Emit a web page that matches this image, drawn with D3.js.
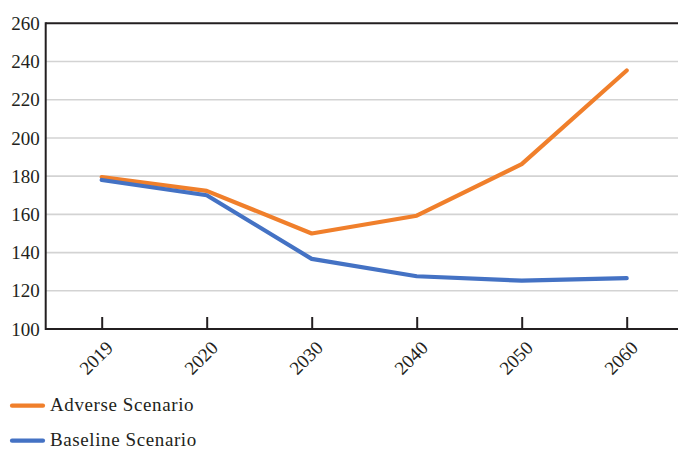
<!DOCTYPE html>
<html>
<head>
<meta charset="utf-8">
<script src="https://cdn.jsdelivr.net/npm/d3@7"></script>
<style>
  html, body { margin: 0; padding: 0; background: #fff; }
  svg { display: block; }
  svg text { font-family: "Liberation Serif", "Times New Roman", "DejaVu Serif", serif !important; fill: #231f20; }
</style>
</head>
<body>
<svg id="chart" width="678" height="449"></svg>
<script>
// Categories (years) and scenario values
const years = ["2019", "2020", "2030", "2040", "2050", "2060"];
const adverse = [179.5, 172.3, 150.0, 159.3, 186.3, 235.3];
const baseline = [178.0, 170.0, 136.7, 127.6, 125.3, 126.6];
const yTicks = [100, 120, 140, 160, 180, 200, 220, 240, 260];
const seriesNames = ["Adverse Scenario", "Baseline Scenario"];
const seriesColors = ["#f07f2b", "#4472c4"];

const svg = d3.select("#chart");
const plotLeft = 45.7, plotRight = 678, plotTop = 23.3, plotBottom = 329;
const fontSize = "19px";

const x = d3.scalePoint().domain(years).range([101.7, 626.7]);
const y = d3.scaleLinear().domain([100, 260]).range([plotBottom, plotTop]);

// Horizontal gridlines
svg.append("g")
  .selectAll("line")
  .data(yTicks.filter(v => v > 100 && v < 260))
  .join("line")
  .attr("x1", plotLeft).attr("x2", plotRight)
  .attr("y1", d => y(d)).attr("y2", d => y(d))
  .attr("stroke", "#d3d3d3").attr("stroke-width", 1.6);

// Y axis
const yAxis = svg.append("g")
  .attr("transform", `translate(${plotLeft},0)`)
  .call(d3.axisLeft(y).tickValues(yTicks).tickSize(0).tickPadding(6));
yAxis.attr("font-family", null).attr("font-size", null);
yAxis.select(".domain").remove();
yAxis.selectAll("text")
  .style("font-size", fontSize)
  .attr("fill", "#231f20");

// Frame: left axis and top line
svg.append("line").attr("x1", plotLeft).attr("x2", plotLeft).attr("y1", plotTop - 1).attr("y2", plotBottom + 1)
  .attr("stroke", "#231f20").attr("stroke-width", 2);
svg.append("line").attr("x1", plotLeft).attr("x2", plotRight).attr("y1", y(260)).attr("y2", y(260))
  .attr("stroke", "#231f20").attr("stroke-width", 2);

// X axis with inward ticks
const xAxis = svg.append("g")
  .attr("transform", `translate(0,${plotBottom})`)
  .call(d3.axisBottom(x).tickSize(0).tickPadding(0));
xAxis.attr("font-family", null).attr("font-size", null);
xAxis.select(".domain").remove();
xAxis.selectAll(".tick line").remove();
xAxis.selectAll(".tick")
  .append("line")
  .attr("y1", 0).attr("y2", -12)
  .attr("stroke", "#231f20").attr("stroke-width", 2);
xAxis.selectAll(".tick text")
  .attr("text-anchor", "end")
  .attr("dy", null)
  .attr("transform", "translate(12,20) rotate(-45)")
  .style("font-size", fontSize)
  .attr("fill", "#231f20");
svg.append("line").attr("x1", plotLeft).attr("x2", plotRight).attr("y1", plotBottom).attr("y2", plotBottom)
  .attr("stroke", "#231f20").attr("stroke-width", 2);

// Series lines
const line = d3.line().x((d, i) => x(years[i])).y(d => y(d));
[adverse, baseline].forEach((vals, k) => {
  svg.append("path")
    .datum(vals)
    .attr("d", line)
    .attr("fill", "none")
    .attr("stroke", seriesColors[k])
    .attr("stroke-width", 4.2)
    .attr("stroke-linecap", "round")
    .attr("stroke-linejoin", "round");
});

// Legend
const legend = svg.append("g");
seriesNames.forEach((name, k) => {
  const ly = 405.7 + k * 35;
  legend.append("line")
    .attr("x1", 12).attr("x2", 43).attr("y1", ly).attr("y2", ly)
    .attr("stroke", seriesColors[k]).attr("stroke-width", 4.2)
    .attr("stroke-linecap", "round");
  legend.append("text")
    .attr("x", 50).attr("y", ly + 5)
    .style("font-size", fontSize)
    .style("letter-spacing", "0.6px")
    .text(name);
});
</script>
</body>
</html>
